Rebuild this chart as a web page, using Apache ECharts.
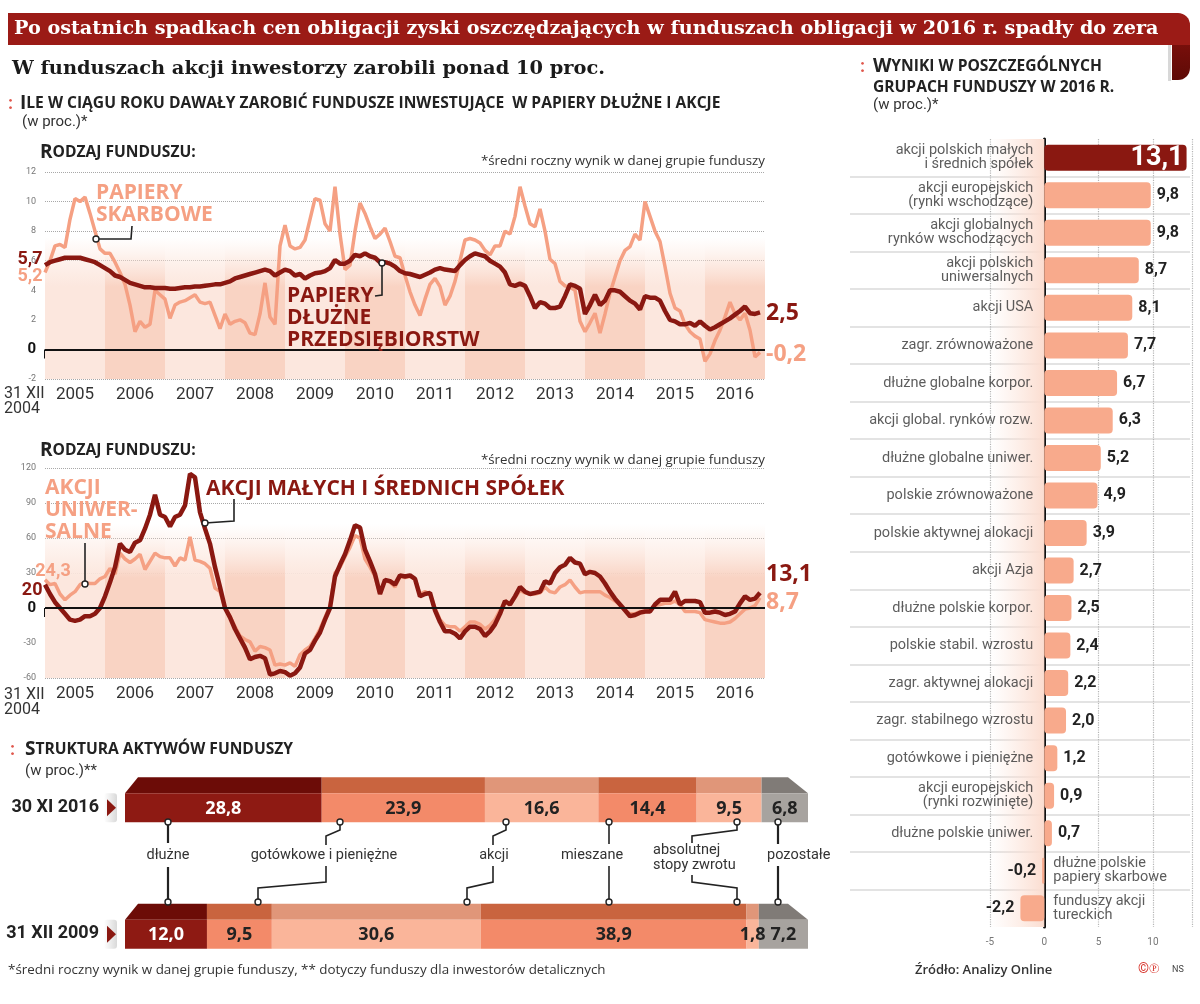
<!DOCTYPE html>
<html><head><meta charset="utf-8">
<script src="https://cdn.jsdelivr.net/npm/echarts/dist/echarts.min.js"></script>
<style>html,body{margin:0;padding:0;background:#fff}#c{width:1200px;height:1004px}</style>
</head><body><div id="c"></div>
<script>
// ---------- DATA ----------
const years = ['2005','2006','2007','2008','2009','2010','2011','2012','2013','2014','2015','2016'];
// chart 1: monthly, 31 XII 2004 .. XI 2016 (w proc.)
const corpBonds = [
 5.7,5.9,6.0,6.1,6.2,6.2,6.2,6.2,6.1,6.0,5.9,5.7,
 5.5,5.3,5.0,4.9,4.7,4.5,4.4,4.3,4.2,4.2,4.15,4.15,
 4.15,4.1,4.1,4.15,4.2,4.2,4.25,4.25,4.3,4.35,4.4,4.4,
 4.5,4.6,4.8,4.9,5.0,5.1,5.2,5.3,5.4,5.3,5.0,5.2,
 5.4,5.3,5.0,5.1,4.8,5.0,5.15,5.2,5.3,5.5,6.05,5.8,
 5.8,6.0,6.4,6.3,6.5,6.3,6.2,5.9,5.9,5.8,5.6,5.3,
 5.15,5.1,5.0,4.9,5.05,5.2,5.4,5.5,5.4,5.35,5.3,5.7,
 6.05,6.3,6.5,6.4,6.3,6.0,5.8,5.6,5.2,4.4,4.3,4.45,
 4.3,3.6,2.8,3.2,3.1,2.8,2.8,2.9,3.6,4.4,4.3,4.1,
 2.4,3.0,3.7,3.0,3.3,4.0,4.0,3.9,3.6,3.3,3.1,2.7,
 3.6,3.5,3.5,3.3,2.6,2.0,1.9,1.7,1.7,1.8,1.6,1.9,
 1.6,1.35,1.5,1.7,1.9,2.1,2.35,2.6,2.9,2.45,2.4,2.5];
const treasury = [
 5.2,6.0,7.0,7.1,6.9,8.8,10.2,10.0,10.3,9.2,8.0,6.8,
 6.5,6.5,5.9,5.2,4.4,3.0,1.2,1.9,1.5,1.7,4.0,3.7,
 3.4,2.1,3.0,3.2,3.3,3.5,3.7,3.2,3.1,3.2,2.3,1.4,
 2.4,1.7,1.9,2.0,1.8,1.1,1.0,2.4,4.5,2.2,1.7,7.0,
 8.4,7.0,6.8,6.9,7.4,8.8,10.2,10.1,8.5,8.0,11.0,7.8,
 5.4,5.7,8.0,9.9,9.2,8.3,7.5,7.8,8.2,7.3,6.3,6.2,
 5.0,3.9,3.0,2.3,3.4,4.4,4.8,4.25,3.0,3.6,4.6,6.0,
 7.4,7.5,7.4,7.2,6.7,6.4,7.0,7.0,8.0,7.8,9.0,11.0,
 9.7,8.5,8.3,9.5,8.0,6.1,5.8,4.6,4.3,4.2,4.0,1.9,
 1.2,1.8,2.45,1.1,2.4,3.8,4.9,6.0,6.7,6.95,7.8,7.4,
 10.0,9.0,8.0,7.3,5.6,3.8,2.8,2.6,1.7,1.2,0.9,0.7,
 -0.8,-0.3,0.6,1.3,2.2,3.2,2.4,2.0,2.45,1.3,-0.5,-0.2];
// chart 2
const smallMid = [
 20,12,5,0,-5,-10,-11,-10,-7,-7,-5,0,
 10,22,35,55,50,48,56,58,68,80,97,80,
 78,70,78,80,88,115,112,82,68,55,35,18,
 0,-8,-18,-26,-34,-44,-42,-41,-43,-57,-56,-54,
 -55,-58,-56,-51,-39,-36,-28,-21,-10,0,27,37,
 46,58,71,69,50,40,29,12,24,23,20,28,
 27,28,25,10,12,13,-2,-12,-20,-20,-22,-26,
 -20,-16,-16,-18,-24,-20,-14,-5,6,3,10,18,
 14,12,13,14,23,21,30,35,37,43,39,38,
 29,31,30,27,21,14,8,3,-2,-7,-6,-4,
 -3,-3,3,7,7,7,14,3,6,6,6,5,
 -4,-4,-3,-4,-6,-5,-3,4,10,7,8,13.1];
const universal = [
 24.3,20,21,12,7,11,14,20,22,21,21,25,
 27,34,29,47,42,39,42,46,33,40,47,44,
 43,43,36,43,41,61,41,40,38,34,17,14,
 0,-7,-16,-24,-27,-29,-37,-33,-34,-36,-49,-48,
 -49,-47,-50,-40,-36,-33,-26,-18,-8,2,30,35,
 44,52,62,60,42,35,27,12,24,22,18,27,
 26,27,25,12,14,12,0,-10,-15,-16,-16,-20,
 -16,-12,-12,-14,-18,-15,-10,-2,5,4,9,15,
 13,12,12,13,18,14,13,18,20,24,18,13,
 14,14,14,14,11,9,6,3,-2,-5,-5,-3,
 -3,-2,2,3,4,4,6,3,-3,-3,-3,-4,
 -10,-11,-12,-13,-13,-12,-9,-5,-1,0,2,8.7];
// right: results 2016
const fundGroups = [
 'akcji polskich małych\ni średnich spółek','akcji europejskich\n(rynki wschodzące)','akcji globalnych\nrynków wschodzących',
 'akcji polskich\nuniwersalnych','akcji USA','zagr. zrównoważone','dłużne globalne korpor.','akcji global. rynków rozw.',
 'dłużne globalne uniwer.','polskie zrównoważone','polskie aktywnej alokacji','akcji Azja','dłużne polskie korpor.',
 'polskie stabil. wzrostu','zagr. aktywnej alokacji','zagr. stabilnego wzrostu','gotówkowe i pieniężne',
 'akcji europejskich\n(rynki rozwinięte)','dłużne polskie uniwer.','dłużne polskie\npapiery skarbowe','funduszy akcji\ntureckich'];
const fundResults = [13.1,9.8,9.8,8.7,8.1,7.7,6.7,6.3,5.2,4.9,3.9,2.7,2.5,2.4,2.2,2.0,1.2,0.9,0.7,-0.2,-2.2];
// bottom: asset structure
const structDates = ['30 XI 2016','31 XII 2009'];
const struct2016 = [28.8,23.9,16.6,14.4,9.5,6.8];
const struct2009 = [12.0,9.5,30.6,38.9,1.8,7.2];
const structNames = ['dłużne','gotówkowe i pieniężne','akcji','mieszane','absolutnej\nstopy zwrotu','pozostałe'];

// ---------- STYLE ----------
const F = 'Roboto', OS = '"Open Sans"';
const DARK = '#8A1811', SAL = '#F5A083', BAR = '#F8AA8C', TXT = '#2b2b2b';
const segFront = ['#8E1A13','#F38A69','#FAB59A','#F38A69','#FAB59A','#A7A39F'];
const segTop   = ['#6C0C07','#C9643F','#E09679','#C9643F','#E09679','#807B77'];

const fmtL = v => Number.isInteger(v) ? String(v) : v.toFixed(1).replace('.', ',');
const fmtB = v => v.toFixed(1).replace('.', ',');
const grad = (c) => new echarts.graphic.LinearGradient(0,0,0,1,[{offset:0,color:'rgba(252,226,214,0)'},{offset:0.35,color:c},{offset:1,color:c}]);
const bands = (top, bot) => years.map((y,i)=>[{xAxis:i*12, yAxis:top, itemStyle:{color: grad(i%2 ? '#F9D3C3' : '#FCE7DE')}},{xAxis:(i+1)*12, yAxis:bot}]);
const tickVals = years.map((y,i)=>i*12);

const chart = echarts.init(document.getElementById('c'), null, {renderer:'canvas'});

// ---------- GRAPHIC (titles / annotations) ----------
const g = [];
const T = (x,y,text,o) => g.push({type:'text', x, y, z:10, style:Object.assign({text, fill:TXT, font:`14px ${F}`, textAlign:'left', textVerticalAlign:'middle', align:'left', verticalAlign:'middle'}, o||{})});
const rich = (c) => ({B:{fontSize:19,fontWeight:'bold',fontFamily:'Open Sans',fill:c,color:c}, s:{fontSize:15.6,fontWeight:'bold',fontFamily:'Open Sans',fill:c,color:c}, sup:{fontSize:9,fill:'#333',color:'#333',verticalAlign:'top'}});
const sc = (str) => `{B|${str[0]}}{s|${str.slice(1).toUpperCase()}}`;
const scs = (str) => `{s|${str.toUpperCase()}}`;
const line = (pts, w) => g.push({type:'polyline', z:10, shape:{points:pts}, style:{stroke:'#222', lineWidth:w||1.6, fill:null}});
const dot = (x,y) => g.push({type:'circle', z:11, shape:{cx:x,cy:y,r:3}, style:{fill:'#fff', stroke:'#222', lineWidth:1.4}});
const colon = (x,y) => T(x,y,':',{font:`bold 18px ${F}`, fill:'#E0574C'});
const ann = `bold 21px ${OS}`;

// title band
g.push({type:'rect', z:5, shape:{x:8,y:13,width:1182,height:32,r:[0,12,0,0]}, style:{fill:'#9B1B16'}});
g.push({type:'rect', z:4, shape:{x:1172,y:36,width:18,height:44,r:[0,0,12,0]}, style:{fill:new echarts.graphic.LinearGradient(0,0,0,1,[{offset:0,color:'#7E100C'},{offset:1,color:'#5E0A06'}])}});
g.push({type:'rect', z:4, shape:{x:1168,y:45,width:3,height:36}, style:{fill:'#d8d8d8'}});
T(14,29,'Po ostatnich spadkach cen obligacji zyski oszczędzających w funduszach obligacji w 2016 r. spadły do zera',{font:'bold 19.2px "DejaVu Serif"', fill:'#fff'});
T(12,69,'W funduszach akcji inwestorzy zarobili ponad 10 proc.',{font:'bold 19.4px "DejaVu Serif"', fill:'#1a1a1a'});

// section header 1
colon(8,104);
T(20,104, sc('Ile w ciągu roku dawały zarobić fundusze inwestujące  w papiery dłużne i akcje'), {rich:rich('#222')});
T(22,122,'(w proc.)*',{font:`15px ${F}`, fill:'#333'});
// chart 1 headers
T(40,153, sc('Rodzaj funduszu:'), {rich:rich('#222')});
T(765,161,'*średni roczny wynik w danej grupie funduszy',{font:`13.3px ${OS}`, fill:'#333', textAlign:'right', align:'right'});
T(4,394,'31 XII',{font:`16px ${F}`, fill:'#333'});
T(4,409,'2004',{font:`16px ${F}`, fill:'#333'});
T(96,193,'PAPIERY',{font:ann, fill:SAL});
T(96,215,'SKARBOWE',{font:ann, fill:SAL});
line([[96,239],[131,239],[132,226]]); dot(96,239);
T(287,296,'PAPIERY',{font:ann, fill:DARK});
T(287,318,'DŁUŻNE',{font:ann, fill:DARK});
T(287,340,'PRZEDSIĘBIORSTW',{font:ann, fill:DARK});
line([[382,263],[382,295],[375,296]]); dot(382,263);

// chart 2 headers
T(40,451, sc('Rodzaj funduszu:'), {rich:rich('#222')});
T(765,460,'*średni roczny wynik w danej grupie funduszy',{font:`13.3px ${OS}`, fill:'#333', textAlign:'right', align:'right'});
T(4,695,'31 XII',{font:`16px ${F}`, fill:'#333'});
T(4,710,'2004',{font:`16px ${F}`, fill:'#333'});
T(45,488,'AKCJI',{font:ann, fill:SAL});
T(45,510,'UNIWER-',{font:ann, fill:SAL});
T(45,532,'SALNE',{font:ann, fill:SAL});
line([[85,543],[85,584]]); dot(85,584);
T(206,489,'AKCJI MAŁYCH I ŚREDNICH SPÓŁEK',{font:ann, fill:DARK});
line([[234,499],[234,521],[205,523]]); dot(205,523);

// right header
colon(860,67);
T(873,67, sc('Wyniki w poszczególnych'), {rich:rich('#222')});
T(873,88, scs('grupach funduszy w 2016 r.'), {rich:rich('#222')});
T(873,105,'(w proc.)*',{font:`15px ${F}`, fill:'#333'});

// bottom header
colon(10,750);
T(25,750, sc('Struktura aktywów funduszy'), {rich:rich('#222')});
T(25,771,'(w proc.)**',{font:`15px ${F}`, fill:'#333'});

// leaders between structure bars
const lf = `14.5px ${F}`;
line([[168,822],[168,843]],2.2); line([[168,867],[168,902]],2.2); dot(168,822); dot(168,902);
T(168,855,structNames[0],{font:lf, textAlign:'center', align:'center', fill:'#333'});
line([[340,822],[340,830],[326,836],[326,845]]); line([[326,866],[326,882],[258,888],[258,902]]); dot(340,822); dot(258,902);
T(324,855,structNames[1],{font:lf, textAlign:'center', align:'center', fill:'#333'});
line([[506,822],[506,830],[493,836],[493,845]]); line([[493,866],[493,882],[467,888],[467,902]]); dot(506,822); dot(467,902);
T(494,855,structNames[2],{font:lf, textAlign:'center', align:'center', fill:'#333'});
line([[609,822],[609,844]],1.6); line([[609,866],[609,902]],1.6); dot(609,822); dot(609,902);
T(592,855,structNames[3],{font:lf, textAlign:'center', align:'center', fill:'#333'});
line([[737,822],[737,830],[692,836],[692,843]]); line([[692,875],[692,882],[737,888],[737,902]]); dot(737,822); dot(737,902);
T(653,858,structNames[4],{font:lf, fill:'#333', lineHeight:15});
line([[778,822],[778,844]],2.2); line([[778,866],[778,902]],2.2); dot(778,822); dot(778,902);
T(767,855,structNames[5],{font:lf, fill:'#333'});

// footer
T(8,970,'*średni roczny wynik w danej grupie funduszy, ** dotyczy funduszy dla inwestorów detalicznych',{font:`13.4px ${OS}`, fill:'#333'});
T(915,970,'Źródło: Analizy Online',{font:`600 13px ${OS}`, fill:'#333'});
T(1138,969,'©℗',{font:`14px ${F}`, fill:'#D8362E'});
T(1172,970,'NS',{font:`9px ${F}`, fill:'#444'});

// ---------- structure bars (custom) ----------
const structData = [];
[struct2016, struct2009].forEach((arr, r) => { let acc = 0; arr.forEach((v,k) => { structData.push([acc, acc+v, r, k, v]); acc += v; }); });
function renderSeg(params, api) {
  const s = api.value(0), e = api.value(1), r = api.value(2), k = api.value(3), v = api.value(4);
  const a = api.coord([s, r]), b = api.coord([e, r]);
  const cy = a[1], x0 = a[0], x1 = b[0];
  const fTop = cy - 14, fH = 29, tH = 16;
  const lt = s === 0 ? x0 + 13 : x0;
  const rt = e >= 99.9 ? x1 - 20 : x1;
  const ch = [
    {type:'polygon', shape:{points:[[lt,fTop-tH],[rt,fTop-tH],[x1,fTop],[x0,fTop]]}, style:{fill:segTop[k]}},
    {type:'rect', shape:{x:x0,y:fTop,width:x1-x0,height:fH}, style:{fill:segFront[k]}},
    {type:'text', z2:100, style:{text:fmtB(v), x:(x0+x1)/2, y:fTop+fH/2+1, align:'center', verticalAlign:'middle', textAlign:'center', textVerticalAlign:'middle', fill:k===0?'#fff':'#222', font:`bold 18px ${OS}`}}
  ];
  if (k === 0) {
    ch.push({type:'rect', shape:{x:x0-21,y:cy-14,width:13,height:29,r:3}, style:{fill:new echarts.graphic.LinearGradient(0,0,1,0,[{offset:0,color:'#ffffff'},{offset:1,color:'#d9d9d9'}])}});
    ch.push({type:'polygon', shape:{points:[[x0-18,cy-8],[x0-9,cy+0.5],[x0-18,cy+9]]}, style:{fill:DARK}});
  }
  return {type:'group', children:ch};
}

const yLab = {margin:9, fontSize:9, color:'#777', fontFamily:F, formatter:v => v===0 ? '{z|0}' : String(v), rich:{z:{fontSize:15, fontWeight:'bold', color:'#111', fontFamily:F}}};
const option = {
  animation:false,
  backgroundColor:'#fff',
  textStyle:{fontFamily:F},
  graphic: g,
  grid:[
    {left:45, top:172, width:720, height:207},
    {left:45, top:468, width:720, height:210},
    {left:990, top:139, width:202, height:788},
    {left:850, top:139, width:340, height:788},
    {left:125, top:744, width:683, height:253}
  ],
  xAxis:[
    {gridIndex:0, type:'value', min:0, max:144, position:'bottom', axisLine:{show:false}, splitLine:{show:false}, axisLabel:{show:false},
     axisTick:{show:true, length:9, lineStyle:{color:'#111', width:3}, customValues:tickVals}},
    {gridIndex:0, type:'category', data:years, position:'bottom', boundaryGap:true, axisLine:{show:false}, axisTick:{show:false}, axisLabel:{margin:7, fontSize:17, color:'#333', fontFamily:F}},
    {gridIndex:1, type:'value', min:0, max:144, position:'bottom', axisLine:{show:false}, splitLine:{show:false}, axisLabel:{show:false},
     axisTick:{show:true, length:9, lineStyle:{color:'#111', width:3}, customValues:tickVals}},
    {gridIndex:1, type:'category', data:years, position:'bottom', boundaryGap:true, axisLine:{show:false}, axisTick:{show:false}, axisLabel:{margin:7, fontSize:17, color:'#333', fontFamily:F}},
    {gridIndex:2, type:'value', min:-5, max:13.6, interval:5, axisLine:{show:false}, axisTick:{show:false},
     axisLabel:{margin:10, fontSize:10, color:'#777', fontFamily:F, formatter:v => (v % 5 === 0 ? String(v) : '')},
     splitLine:{show:true, lineStyle:{type:'dotted', color:'#b5b5b5', width:1.2}}},
    {gridIndex:3, type:'value', show:false, min:0, max:1},
    {gridIndex:4, type:'value', show:false, min:0, max:100}
  ],
  yAxis:[
    {gridIndex:0, type:'value', min:-2, max:12, interval:2, axisLine:{show:false}, axisTick:{show:false},
     splitLine:{lineStyle:{type:'dotted', color:'#a8a8a8'}}, axisLabel:yLab},
    {gridIndex:1, type:'value', min:-60, max:120, interval:30, axisLine:{show:false}, axisTick:{show:false},
     splitLine:{lineStyle:{type:'dotted', color:'#a8a8a8'}}, axisLabel:yLab},
    {gridIndex:2, type:'category', data:fundGroups, inverse:true, axisTick:{show:false}, axisLabel:{show:false},
     axisLine:{show:true, onZero:true, lineStyle:{color:'#111', width:3}}, splitLine:{show:false}},
    {gridIndex:3, type:'category', data:fundGroups, inverse:true, axisLine:{show:false}, axisTick:{show:false}, axisLabel:{show:false},
     splitLine:{show:true, lineStyle:{width:2, color:['rgba(0,0,0,0)'].concat(fundGroups.slice(1).map(()=> '#e3e3e3'), ['rgba(0,0,0,0)'])}}},
    {gridIndex:4, type:'category', data:structDates, inverse:true, axisLine:{show:false}, axisTick:{show:false},
     axisLabel:{margin:26, fontSize:18, fontWeight:'bold', color:'#222', fontFamily:F}}
  ],
  series:[
    // chart 1
    {type:'line', xAxisIndex:0, yAxisIndex:0, data:treasury.map((v,i)=>[i,v]), symbol:'none', z:3,
     lineStyle:{color:SAL, width:3.5},
     markArea:{silent:true, data:bands(7.6,-2)},
     markPoint:{symbol:'circle', symbolSize:1, itemStyle:{color:'rgba(0,0,0,0)'},
       data:[{coord:[0,treasury[0]], label:{show:true, position:'left', distance:2, offset:[0,4], formatter:fmtL(treasury[0]), color:SAL, fontSize:18, fontWeight:'bold', fontFamily:F}}]},
     endLabel:{show:true, formatter:p=>fmtL(p.value[1]), color:SAL, fontSize:23, fontWeight:'bold', fontFamily:'Open Sans', distance:6, offset:[0,2]}},
    {type:'line', xAxisIndex:0, yAxisIndex:0, data:corpBonds.map((v,i)=>[i,v]), symbol:'none', z:4,
     lineStyle:{color:DARK, width:4.5},
     markLine:{silent:true, symbol:'none', label:{show:false}, lineStyle:{color:'#111', type:'solid', width:2}, data:[{yAxis:0}]},
     markPoint:{symbol:'circle', symbolSize:1, itemStyle:{color:'rgba(0,0,0,0)'},
       data:[{coord:[0,corpBonds[0]], label:{show:true, position:'left', distance:2, offset:[0,-6], formatter:fmtL(corpBonds[0]), color:DARK, fontSize:18, fontWeight:'bold', fontFamily:F}}]},
     endLabel:{show:true, formatter:p=>fmtL(p.value[1]), color:DARK, fontSize:23, fontWeight:'bold', fontFamily:'Open Sans', distance:6, offset:[0,1]}},
    // chart 2
    {type:'line', xAxisIndex:2, yAxisIndex:1, data:universal.map((v,i)=>[i,v]), symbol:'none', z:3,
     lineStyle:{color:SAL, width:3.5},
     markArea:{silent:true, data:bands(72,-60)},
     markPoint:{symbol:'circle', symbolSize:1, itemStyle:{color:'rgba(0,0,0,0)'},
       data:[{coord:[0,universal[0]], label:{show:true, position:'top', distance:1, offset:[8,2], formatter:fmtL(universal[0]), color:SAL, fontSize:18, fontWeight:'bold', fontFamily:F}}]},
     endLabel:{show:true, formatter:p=>fmtL(p.value[1]), color:SAL, fontSize:23, fontWeight:'bold', fontFamily:'Open Sans', distance:6, offset:[0,5]}},
    {type:'line', xAxisIndex:2, yAxisIndex:1, data:smallMid.map((v,i)=>[i,v]), symbol:'none', z:4,
     lineStyle:{color:DARK, width:4.5},
     markLine:{silent:true, symbol:'none', label:{show:false}, lineStyle:{color:'#111', type:'solid', width:2}, data:[{yAxis:0}]},
     markPoint:{symbol:'circle', symbolSize:1, itemStyle:{color:'rgba(0,0,0,0)'},
       data:[{coord:[0,smallMid[0]], label:{show:true, position:'left', distance:2, offset:[0,6], formatter:fmtL(smallMid[0]), color:DARK, fontSize:18, fontWeight:'bold', fontFamily:F}}]},
     endLabel:{show:true, formatter:p=>fmtL(p.value[1]), color:DARK, fontSize:23, fontWeight:'bold', fontFamily:'Open Sans', distance:6, offset:[0,-18]}},
    // right bars
    {type:'bar', xAxisIndex:4, yAxisIndex:2, barWidth:26, z:3,
     data:fundResults.map((v,i)=>({value:v,
        itemStyle:{color:i===0?DARK:BAR, borderRadius:4},
        label: i===0 ? {position:'insideRight', color:'#fff', fontSize:27, distance:3}
                     : {position: v<0 ? 'left' : 'right'}})),
     label:{show:true, formatter:p=>fmtB(p.value), fontSize:16, fontWeight:'bold', color:'#222', fontFamily:F, distance:6},
     markArea:{silent:true, data:[[{xAxis:-5, itemStyle:{color:new echarts.graphic.LinearGradient(0,0,1,0,[{offset:0,color:'rgba(252,228,218,0)'},{offset:1,color:'#FBDDD0'}])}},{xAxis:0}]]}},
    {type:'scatter', xAxisIndex:4, yAxisIndex:2, symbolSize:0, silent:true, z:5,
     data:fundGroups.map((gname,i)=>({value:[0,i], label:{show:true, formatter:gname, position: fundResults[i]<0 ? 'right' : 'left', distance: fundResults[i]<0 ? 9 : 11}})),
     label:{color:'#333', fontSize:14.5, lineHeight:14, fontFamily:F}},
    // structure
    {type:'custom', xAxisIndex:6, yAxisIndex:4, renderItem:renderSeg, data:structData, encode:{x:[0,1], y:2}, z:5}
  ]
};
chart.setOption(option);
</script></body></html>
